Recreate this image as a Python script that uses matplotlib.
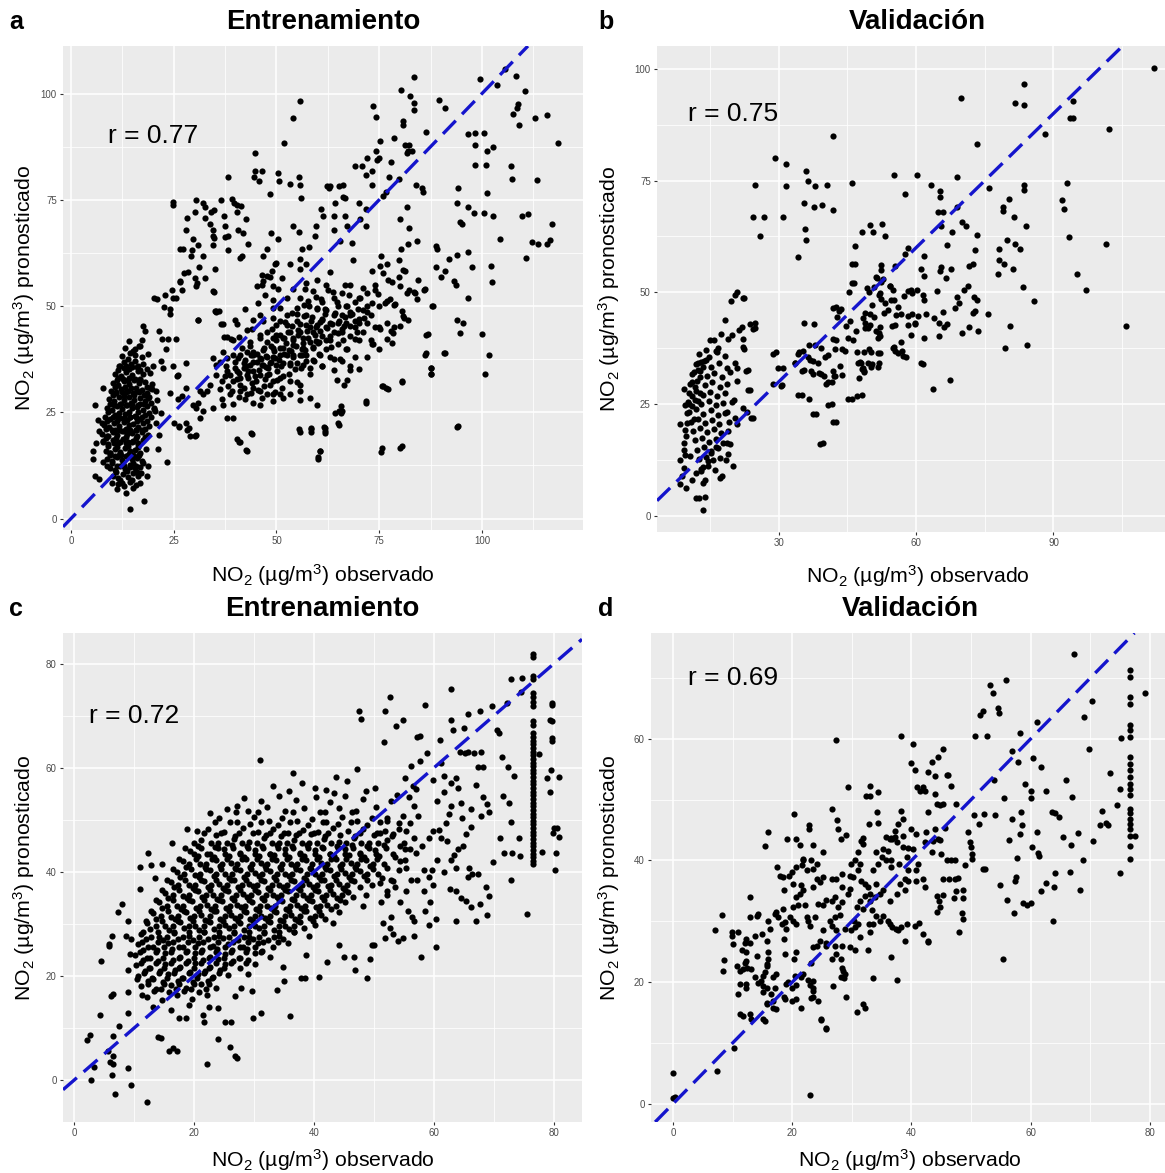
import numpy as np
import matplotlib
matplotlib.use("Agg")
import matplotlib.pyplot as plt

plt.rcParams['font.family'] = ['Liberation Sans', 'DejaVu Sans']
plt.rcParams['mathtext.fontset'] = 'custom'
plt.rcParams['mathtext.rm'] = 'Liberation Sans'
plt.rcParams['mathtext.it'] = 'Liberation Sans:italic'
plt.rcParams['mathtext.bf'] = 'Liberation Sans:bold'

# ---------------- data (observado, pronosticado) ----------------

# panel a, training: low cluster around 10-20 observed
a_low = [
    (5.8,26.6),(7.7,30.7),(6.5,23.1),(7.5,22.5),(6.9,20.6),(6.1,17.8),(5.4,15.9),(5.4,13.9),(5.8,10.0),(6.9,9.2),
    (7.9,18.2),(8.7,19.4),(9.5,15.5),(8.7,12.4),(7.9,13.2),(9.9,8.4),(11.1,6.9),(13.5,6.1),(14.4,2.2),(17.8,4.2),
    (12.3,8.4),(15.2,7.3),(16.8,8.4),(18.4,10.0),(18.8,12.4),(21.2,16.3),(23.4,13.3),(21.5,19.7),(20.8,22.5),(22.0,24.9),
    (24.1,29.6),(25.7,33.5),(26.1,33.8),(28.1,36.6),(24.7,35.8),(23.7,42.2),(25.5,42.2),(22.2,42.2),(21.4,44.2),(17.6,45.2),
    (18.0,44.2),(17.2,42.1),(16.8,40.5),(15.6,39.8),(22.0,37.0),(22.5,35.4),(20.0,35.8),(19.3,30.7),(18.8,28.3),(20.1,26.0),
    (20.5,25.2),(20.8,29.9),(23.2,39.8),(26.1,28.1),(27.1,28.9),(28.1,30.6),(25.1,22.5),(27.9,22.5),(26.3,21.7),(28.3,20.9),
    (30.3,19.7),(28.9,19.4),(30.4,26.0),(29.8,26.8),(31.4,23.7),(31.4,30.0),
    (13.2,40.1),(15.0,39.4),(16.6,40.6),(14.1,41.8),(12.3,38.2),(13.9,37.6),(15.5,38.5),(17.2,37.9),(18.8,38.7),
    (11.6,36.0),(13.0,35.4),(14.5,36.3),(16.0,35.7),(17.4,36.4),(18.5,35.2),
    (10.8,34.1),(12.1,33.5),(13.5,34.4),(14.8,33.8),(16.2,34.6),(17.6,33.9),(19.2,34.3),
    (10.3,32.0),(11.5,31.4),(12.8,32.3),(14.0,31.7),(15.3,32.5),(16.6,31.8),(17.9,32.2),(19.8,31.6),
    (9.7,30.1),(11.0,29.5),(12.2,30.4),(13.5,29.8),(14.7,30.6),(16.0,29.9),(17.2,30.3),(18.5,29.6),(19.7,30.5),
    (9.3,28.2),(10.5,27.6),(11.8,28.5),(13.0,27.9),(14.2,28.7),(15.4,28.0),(16.7,28.4),(17.9,27.7),(19.1,28.6),(21.0,27.9),
    (8.8,26.1),(10.0,25.5),(11.3,26.4),(12.5,25.8),(13.7,26.6),(14.9,25.9),(16.1,26.3),(17.4,25.6),(18.6,26.5),(20.2,25.8),
    (8.3,24.0),(9.6,23.4),(10.8,24.3),(12.0,23.7),(13.2,24.5),(14.4,23.8),(15.6,24.2),(16.9,23.5),(18.1,24.4),(19.4,23.9),
    (8.0,22.1),(9.2,21.5),(10.4,22.4),(11.6,21.8),(12.8,22.6),(14.0,21.9),(15.2,22.3),(16.4,21.6),(17.6,22.5),(18.9,21.8),
    (7.6,20.0),(8.9,19.4),(10.1,20.3),(11.3,19.7),(12.5,20.5),(13.7,19.8),(14.9,20.2),(16.1,19.5),(17.3,20.4),(18.7,19.7),
    (7.9,18.1),(9.1,17.5),(10.3,18.4),(11.5,17.8),(12.7,18.6),(13.9,17.9),(15.1,18.3),(16.3,17.6),(17.6,18.5),
    (8.4,16.0),(9.6,15.4),(10.8,16.3),(12.0,15.7),(13.2,16.5),(14.4,15.8),(15.6,16.2),(16.9,15.5),(18.2,16.4),
    (8.8,14.1),(10.0,13.5),(11.2,14.4),(12.4,13.8),(13.6,14.6),(14.8,13.9),(16.0,14.3),(17.3,13.6),
    (9.5,12.0),(10.7,11.4),(11.9,12.3),(13.1,11.7),(14.3,12.5),(15.5,11.8),(16.8,12.2),
    (10.2,10.1),(11.4,9.5),(12.6,10.4),(13.8,9.8),(15.0,10.6),(16.3,9.9),(11.5,8.2),(12.9,7.6),(14.3,8.5),(15.8,7.9),
    (14.3,39.0),(12.9,36.9),(15.6,37.0),(11.4,35.0),(14.1,35.2),(16.9,35.0),(11.5,33.0),(14.2,33.1),(16.9,32.9),(10.6,31.0),
    (13.1,30.9),(15.8,30.8),(18.4,31.0),(10.2,29.0),(12.8,28.9),(15.3,29.1),(17.7,29.0),(9.5,27.0),(12.0,27.0),(14.5,27.1),
    (16.9,26.9),(19.5,27.2),(9.1,25.0),(11.7,24.9),(14.0,25.0),(16.4,25.1),(18.9,24.9),(8.7,23.0),(11.2,22.9),(13.6,23.1),
    (16.0,22.9),(18.4,23.0),(8.4,21.0),(10.8,20.9),(13.3,21.1),(15.7,20.9),(18.1,21.0),(8.6,19.0),(11.0,18.9),(13.4,19.1),
    (15.8,18.9),(17.9,19.1),(9.0,17.0),(11.3,16.9),(13.8,17.1),(16.2,16.9),(9.4,15.0),(11.8,14.9),(14.2,15.1),(16.6,14.9),
    (10.0,13.0),(12.6,12.9),(15.0,13.1),(17.6,13.0),(11.0,11.0),(13.6,11.1),(16.0,10.9),(12.0,9.0),(14.9,9.1),(17.1,10.8),
    (11.9,35.8),(13.4,35.9),(14.9,35.7),(16.4,36.0),(11.2,32.7),(12.6,32.8),(13.9,32.6),(15.5,32.9),(16.9,32.7),(10.9,29.8),
    (12.4,29.7),(13.9,29.9),(15.2,29.6),(16.6,29.8),(10.5,26.8),(12.1,26.9),(13.4,26.7),(14.9,26.9),(16.3,26.8),(17.8,26.9),
    (10.2,23.8),(11.5,23.9),(12.9,23.7),(14.3,23.9),(15.8,23.8),(17.2,23.9),(9.9,20.8),(11.6,20.9),(13.0,20.7),(14.4,20.9),
    (15.9,20.8),(17.3,20.9),(10.4,17.8),(11.9,17.9),(13.3,17.7),(14.8,17.9),(16.3,17.8),(10.7,14.8),(12.2,14.9),(13.5,14.7),
    (15.0,14.9),(16.4,14.8),(11.3,12.3),(12.9,12.4),(14.4,12.2),(15.8,12.4),
]

# panel a, training: main band 30-80 observed
a_mid = [
    (28.5,58.0),(26.5,55.8),(30.6,55.5),(34.6,53.5),(35.3,48.8),(36.1,48.8),(31.0,46.8),(37.1,45.7),(42.3,49.2),(41.5,61.7),
    (46.8,61.7),(46.4,57.4),(47.6,57.0),(46.4,55.0),(49.2,54.8),(47.2,52.7),(45.6,50.7),(49.2,51.5),(50.4,53.9),(51.3,56.7),
    (50.0,60.2),(53.3,59.8),(55.7,61.0),(54.1,53.9),(57.0,53.9),(59.8,56.2),(57.7,51.1),(54.9,49.5),(57.3,48.0),(52.5,48.0),
    (50.9,49.5),(49.2,47.2),(46.8,46.4),(44.4,46.8),(42.8,44.4),(40.0,46.8),(37.9,42.8),(39.5,42.0),(37.1,39.3),(41.5,40.1),
    (43.6,41.6),(46.0,43.2),(47.6,44.0),(50.0,43.2),(53.3,44.0),(55.7,44.0),(58.8,44.0),(58.8,40.1),(56.5,40.1),(54.1,40.9),
    (51.7,40.1),(49.2,40.1),(46.8,39.7),(44.4,39.3),(42.3,37.4),(39.9,36.9),(37.9,34.6),(35.4,33.8),(35.4,36.2),(36.7,32.3),
    (33.8,31.5),(33.0,29.9),(32.2,29.2),(31.0,27.2),(32.2,25.2),(34.6,26.0),(37.1,26.8),(38.7,29.2),(41.1,29.9),(42.8,29.2),
    (44.4,30.8),(46.0,29.9),(47.6,29.2),(49.2,29.2),(50.9,29.2),(53.3,29.2),(55.7,29.9),(55.7,31.5),(53.3,32.3),(50.9,33.0),
    (49.2,32.3),(47.6,33.8),(46.0,33.8),(44.4,34.6),(42.8,33.8),(41.1,33.0),(39.5,32.3),(38.7,33.8),(40.3,34.6),(42.0,35.4),
    (43.6,36.2),(45.2,36.9),(46.8,36.2),(48.4,36.6),(50.0,36.2),(51.7,36.6),(53.3,36.2),(54.9,36.6),(56.5,36.2),(58.2,35.4),
    (58.8,37.4),(57.3,38.5),(55.7,38.5),(54.1,38.5),(52.5,38.5),(50.9,38.5),(49.2,38.1),(47.6,38.1),(46.0,37.7),(44.4,38.5),
    (42.8,39.3),(41.1,38.5),(39.5,38.5),(37.9,37.7),(36.3,36.9),(34.6,37.7),(47.6,41.6),(49.2,42.4),(51.7,42.4),(54.1,42.4),
    (56.5,42.4),(58.2,41.6),(59.8,45.6),(57.3,45.6),(54.9,46.4),(52.5,45.6),(50.0,45.6),(46.0,47.9),(44.0,44.7),(40.8,42.8),
    (49.2,49.5),(52.5,51.8),(55.7,51.8),(58.8,53.5),(59.8,49.2),(57.3,55.5),(55.7,58.7),(46.0,26.8),(49.2,27.6),(51.7,28.4),
    (55.7,28.0),(58.2,28.4),(59.8,26.8),(55.7,20.4),(58.5,20.4),(41.1,18.0),(42.8,16.0),(39.5,23.6),(37.9,23.6),(44.0,19.9),
    (61.0,43.0),(61.0,47.0),(61.0,51.0),(62.0,40.0),(62.0,45.0),(62.0,49.0),(62.0,55.0),(63.0,42.0),(63.0,46.0),(63.0,38.0),
    (64.0,44.0),(64.0,48.0),(64.0,52.0),(65.0,46.0),(65.0,41.0),(65.0,50.0),(61.0,36.0),(63.0,58.0),(64.0,35.0),(66.0,44.0),
    (66.0,48.0),(66.0,53.0),(67.0,40.0),(67.0,46.0),(67.0,50.0),(68.0,43.0),(68.0,48.0),(68.0,55.0),(69.0,45.0),(69.0,51.0),
    (69.0,38.0),(70.0,47.0),(70.0,42.0),(70.0,52.0),(66.0,37.0),(68.0,35.0),(71.0,44.0),(71.0,49.0),(72.0,46.0),(72.0,53.0),
    (73.0,42.0),(73.0,48.0),(74.0,45.0),(74.0,55.0),(75.0,40.0),(75.0,50.0),(72.0,38.0),(60.3,41.6),(59.6,45.0),(60.5,38.6),
    (75.2,59.4),(77.2,56.2),(77.6,51.6),(80.0,54.7),(80.8,58.6),(81.7,53.1),(83.7,53.1),(84.5,56.2),(86.1,53.9),(86.5,43.3),
    (87.9,49.9),(86.4,38.9),(87.7,35.5),(87.7,33.9),(90.8,39.0),(75.6,31.2),(77.2,30.5),(80.5,32.3),(71.9,27.7),(75.6,16.5),
    (80.5,17.0),(94.2,21.7),(70.1,35.2),(73.5,41.0),(75.2,44.5),(76.8,46.1),(78.4,43.7),(80.0,45.3),(80.8,47.6),(78.8,50.4),
    (76.4,50.8),(74.8,52.8),(73.2,50.8),(72.0,48.5),(70.0,46.1),(68.0,48.5),(66.4,45.4),(69.1,42.2),(67.1,39.9),(65.5,37.5),
    (68.0,36.0),(64.7,32.7),(67.1,32.7),(66.4,31.5),(65.1,25.2),(65.9,25.2),(65.2,22.1),(60.5,16.0),(60.1,14.4),(58.5,21.4),
    (61.7,21.4),(61.7,20.6),
    (36.2,30.5),(37.4,33.6),(36.8,28.2),(38.1,31.1),(37.7,35.9),(39.2,30.1),(40.3,32.9),(39.8,35.4),(41.0,28.6),(40.6,37.8),
    (39.5,27.0),(41.2,31.4),(42.1,30.6),(43.0,33.1),(42.6,35.8),(43.7,38.4),(44.1,31.9),(42.4,28.1),(43.5,40.6),(44.3,27.2),
    (45.0,32.4),(45.8,34.9),(46.3,37.6),(45.4,30.3),(46.9,40.1),(47.2,32.8),(45.9,42.5),(46.6,28.3),(47.5,35.6),(48.1,34.1),
    (48.7,36.9),(49.3,39.4),(48.4,31.5),(49.8,42.0),(50.2,34.8),(48.9,44.6),(50.5,37.4),(49.6,29.7),(50.8,46.5),(51.2,36.0),
    (51.8,38.8),(52.4,41.3),(51.5,33.6),(52.9,43.9),(53.2,36.7),(52.0,46.2),(53.5,39.5),(51.3,30.8),(53.8,48.4),(54.1,37.9),
    (54.7,40.6),(55.3,43.2),(54.4,35.3),(55.8,45.8),(56.1,38.5),(54.9,48.1),(56.4,41.2),(55.1,32.2),(56.6,50.3),(57.0,39.6),
    (57.6,42.4),(58.2,45.0),(57.3,37.0),(58.7,47.5),(59.0,40.3),(57.8,50.0),(59.3,43.1),(58.1,34.1),(59.5,52.2),(60.0,41.3),
    (60.6,44.1),(61.2,46.7),(60.3,38.7),(61.7,49.2),(62.0,42.0),(60.8,51.6),(62.3,44.8),(61.0,35.8),(62.5,53.8),(63.0,43.0),
    (63.6,45.8),(64.2,48.4),(63.3,40.4),(64.7,50.9),(65.0,43.7),(63.8,53.3),(65.3,46.5),(64.0,37.5),(66.0,44.7),(66.6,47.5),
    (67.2,50.1),(66.3,42.1),(67.7,52.6),(68.0,45.4),(66.8,55.0),(68.3,48.2),(69.2,46.4),(69.8,49.2),(70.4,51.8),(69.5,43.8),
    (71.0,54.3),(71.4,47.1),(72.0,50.0),(40.9,34.2),(42.0,36.6),(43.1,34.7),(44.2,36.9),(45.3,38.8),(46.4,36.1),(47.5,38.3),
    (48.6,40.5),(49.7,37.8),(50.8,40.1),(51.9,42.4),(53.0,39.6),(54.1,42.1),(55.2,44.4),(56.3,39.8),(57.4,44.2),(58.5,46.4),
    (59.6,41.8),(60.7,46.2),(61.8,48.2),(44.8,33.6),(47.9,35.4),(50.9,43.2),(53.9,45.3),(56.8,47.6),(59.9,49.6),(43.9,29.6),
    (47.0,31.1),(50.1,32.6),(53.0,34.1),(56.0,35.4),(59.1,37.0),
]

# panel a, training: scattered high and right points
a_high = [
    (83.5,103.8),(80.3,100.9),(82.5,99.4),(83.5,97.9),(83.5,96.1),(55.8,98.2),(54.1,94.2),(73.5,97.1),(74.2,94.5),(89.5,98.5),
    (91.1,96.5),(99.5,103.5),(103.6,102.1),(105.5,105.9),(108.3,104.2),(110.4,100.5),(108.9,97.6),(108.6,96.5),(107.5,95.2),(109.1,92.7),
    (113.0,94.2),(115.9,94.9),(118.5,88.3),(80.7,93.5),(80.9,92.7),(86.4,90.9),(96.7,90.5),(98.4,90.8),(100.4,90.7),(98.4,88.0),
    (102.6,87.4),(101.2,86.5),(101.1,83.3),(98.4,83.3),(98.1,71.8),(100.6,72.0),(96.7,73.2),(102.7,71.2),(101.3,76.6),(94.3,77.7),
    (93.9,74.3),(94.6,69.7),(95.2,69.3),(104.5,65.8),(107.0,83.0),(107.2,79.9),(113.4,79.7),(109.8,71.3),(111.2,71.6),(112.1,65.1),
    (113.6,64.6),(115.9,64.6),(116.5,65.6),(117.1,69.4),(110.7,61.3),(102.1,59.5),(102.5,55.7),(96.6,62.7),(97.7,59.1),(93.9,61.9),
    (92.0,61.1),(88.8,64.2),(89.0,63.4),(88.8,59.3),(91.0,58.2),(90.1,56.9),(93.3,56.0),(93.8,55.0),(96.6,52.0),(93.9,46.8),
    (95.3,46.0),(94.6,43.6),(100.0,43.5),(101.7,38.4),(100.7,34.1),(90.9,38.9),(87.6,35.4),(87.6,33.9),(86.1,38.6),(86.9,43.4),
    (88.0,50.0),(93.9,21.5),(80.6,32.1),(80.1,16.5),(75.4,15.7),(76.7,30.8),(76.0,31.2),(71.9,27.3),(60.6,15.8),(60.2,14.0),
    (61.6,21.5),(61.8,20.2),(55.5,21.1),(58.3,21.1),(65.0,22.4),(64.3,24.8),(65.7,24.8),(65.7,26.5),(42.5,16.2),(40.8,18.0),
    (40.5,18.6),(43.9,20.2),(30.2,19.5),(28.6,21.2),(26.3,21.5),
    (24.7,74.6),(24.7,73.9),(30.4,75.0),(32.0,74.2),(32.5,73.3),(28.2,70.8),(28.1,68.0),(30.2,72.1),(34.1,72.1),(34.9,72.5),
    (32.5,70.8),(38.2,80.4),(36.6,74.9),(39.2,75.2),(39.7,74.2),(40.3,73.7),(41.4,73.5),(37.2,71.3),(40.3,72.2),(42.7,70.6),
    (33.9,69.3),(34.6,67.8),(34.6,66.6),(34.9,66.0),(37.4,68.8),(37.5,66.2),(38.1,66.4),(40.7,68.0),(29.6,65.8),(30.8,64.4),
    (29.5,63.1),(27.2,63.5),(26.6,63.5),(29.1,61.8),(32.0,61.8),(34.6,64.4),(38.3,63.1),(41.2,61.3),(41.9,67.1),(43.0,64.6),
    (44.7,81.7),(44.8,86.1),(44.5,80.4),(46.5,81.9),(45.7,79.5),(48.5,76.4),(50.3,81.2),(50.5,79.5),(51.9,88.3),(53.2,78.8),
    (55.5,80.4),(55.8,78.6),(48.7,67.1),(47.6,63.5),(50.3,65.8),(49.7,60.0),(48.9,58.2),(48.5,56.9),(46.7,56.0),(45.3,54.7),
    (27.4,57.8),(26.5,55.6),(26.9,53.8),(30.2,56.5),(30.4,54.7),(24.5,53.8),(24.7,52.0),(25.6,52.0),(20.1,52.0),(21.0,51.6),
    (22.9,52.5),(22.6,49.8),(24.2,49.2),(24.2,48.1),(30.8,46.7),(32.5,56.5),(35.1,58.7),(34.9,53.4),(35.1,48.9),(35.4,48.5),
    (36.4,45.8),(40.3,45.8),(37.3,42.7),(38.9,42.3),(31.1,59.1),
    (56.0,75.5),(54.0,68.8),(55.6,67.5),(56.3,63.5),(57.8,64.0),(57.2,60.0),(59.3,66.6),(59.7,68.8),(60.9,72.8),(61.3,71.1),
    (62.2,78.3),(62.7,77.7),(63.1,78.3),(65.2,78.3),(66.2,78.6),(64.2,74.3),(66.2,75.7),(66.8,75.5),(66.8,71.1),(64.0,71.1),
    (63.9,68.0),(65.5,65.3),(67.2,68.8),(68.4,64.9),(68.6,60.9),(70.0,74.2),(70.4,70.6),(71.8,72.8),(71.8,68.8),(69.1,83.0),
    (70.9,83.0),(71.8,80.8),(72.1,84.8),(73.2,81.7),(73.2,78.6),(74.3,86.5),(74.4,84.3),(75.3,88.8),(75.0,84.8),(76.7,76.8),
    (76.0,76.0),(77.3,80.4),(77.9,83.9),(78.7,89.6),(79.8,79.9),(81.4,87.9),(81.7,86.1),(81.9,86.5),(82.3,87.9),(83.0,86.5),
    (83.9,78.6),(85.3,77.7),(85.7,76.8),(81.7,73.3),(80.0,70.6),(82.3,68.4),(81.9,64.6),(84.2,65.3),(80.2,63.5),(79.8,60.9),
    (81.2,58.2),(79.8,56.9),(78.2,55.6),(76.8,60.0),(75.9,57.8),(75.5,61.8),(74.1,53.8),(73.2,58.2),(76.8,51.2),(78.5,50.3),
    (82.3,53.8),(83.4,53.4),(84.2,51.6),(85.8,53.8),(80.5,48.9),(81.1,47.2),(81.9,46.7),(78.7,45.0),(77.8,44.1),(76.8,42.3),
    (78.2,41.4),(75.0,45.0),(73.2,41.0),
]

# panel b, validation: low cluster
b_low = [
    (20.8,50.1),(20.5,49.4),(19.6,48.1),(22.1,48.7),(18.2,43.9),(23.7,43.0),(24.3,41.9),(21.3,41.6),(19.7,40.4),(18.9,39.5),
    (14.9,39.3),(15.8,39.3),(17.3,40.6),(22.1,39.5),(22.2,37.7),(16.8,37.5),(16.4,36.7),(14.2,37.1),(18.2,35.8),(20.4,34.1),
    (20.8,33.0),(19.3,32.1),(20.8,30.1),(22.8,32.5),(23.3,28.1),(22.2,24.1),(23.0,23.3),(23.9,22.0),(20.8,20.6),(20.4,21.8),
    (19.7,25.5),(20.2,25.9),(18.7,23.3),(19.2,21.1),(18.9,18.9),(18.6,16.4),(19.3,16.0),(18.8,13.8),(18.5,12.6),(19.9,11.1),
    (17.6,9.0),(17.2,8.5),(16.3,15.3),(15.3,14.1),(14.6,12.2),(13.5,11.0),(13.9,8.0),(13.5,7.3),(13.9,4.3),(12.6,4.1),
    (11.9,4.1),(13.5,1.3),(13.1,10.0),(12.0,9.6),(11.1,8.1),(9.8,6.3),(8.4,7.1),(8.9,8.9),(9.3,10.7),(8.4,12.6),
    (9.5,13.7),(10.6,13.4),(9.3,14.8),(9.3,16.3),(9.8,17.8),(9.5,19.3),(8.4,20.5),(10.0,20.8),(11.4,21.6),(10.0,23.0),
    (9.5,24.8),(10.4,25.1),(11.1,24.6),(9.3,28.3),(11.1,26.8),(12.3,25.6),(12.9,27.4),(11.8,28.9),(11.1,30.0),(11.5,32.1),
    (12.3,32.6),(12.9,31.1),(13.5,33.4),(14.1,34.9),(13.1,34.5),(12.4,34.1),
    (12.5,36.2),(14.8,35.6),(16.3,36.8),(11.9,33.9),(13.6,34.6),(15.2,33.3),(17.0,34.1),(18.6,33.0),
    (11.0,31.8),(12.7,32.4),(14.3,31.3),(15.9,32.0),(17.5,31.0),(10.6,29.6),(12.2,30.2),(13.8,29.2),(15.4,29.9),(17.1,28.9),
    (18.7,29.5),(10.3,27.5),(11.9,28.0),(13.4,27.1),(15.0,27.8),(16.6,26.8),(18.2,27.4),(10.1,25.4),(11.6,25.9),(13.1,25.0),
    (14.7,25.7),(16.2,24.8),(17.8,25.3),(10.4,23.2),(12.0,23.8),(13.5,22.9),(15.1,23.6),(16.7,22.6),(18.3,23.1),(10.8,21.1),
    (12.3,21.7),(13.9,20.8),(15.4,21.5),(17.0,20.6),(11.2,19.0),(12.8,19.6),(14.3,18.7),(15.9,19.4),(17.4,18.5),(11.7,16.9),
    (13.2,17.5),(14.8,16.6),(16.3,17.2),(17.9,16.4),(12.1,14.8),(13.7,15.4),(15.2,14.5),(16.8,15.1),(12.6,12.7),(14.1,13.2),
    (15.7,12.4),(17.2,13.0),(13.0,10.6),(14.6,11.1),(16.1,10.3),
]

# panel b, validation: everything above 22 observed
b_rest = [
    (112.0,100.2),(83.5,96.6),(83.5,91.9),(81.7,92.3),(69.8,93.5),(94.2,92.7),(93.7,89.1),(94.3,89.1),(102.1,86.5),(88.2,85.5),
    (73.3,83.2),(41.9,84.9),(29.1,80.0),(31.6,78.7),(36.0,77.2),(36.4,74.8),(38.0,73.7),(40.6,74.1),(31.5,73.7),(24.7,73.9),
    (24.3,66.8),(26.8,66.9),(30.9,66.9),(25.9,62.7),(35.6,69.9),(37.7,69.1),(39.5,69.6),(41.9,68.5),(35.8,64.2),(36.0,61.8),
    (34.1,57.9),(46.1,74.5),(55.2,76.3),(60.2,76.2),(57.5,72.0),(63.2,74.0),(65.2,72.6),(65.2,71.4),(69.0,75.9),(76.0,73.3),
    (83.5,73.9),(83.5,72.8),(84.1,64.9),(93.0,74.4),(91.9,70.6),(92.4,68.6),(93.5,62.4),(81.4,66.9),(79.0,69.1),(80.3,70.8),
    (79.9,61.6),(81.5,60.9),(82.7,59.7),(78.0,59.7),(78.0,57.2),(77.8,54.2),(79.1,56.3),(81.1,55.2),(79.0,68.2),(101.4,60.8),
    (95.2,54.0),(97.2,50.6),(85.7,48.1),(83.4,51.1),(105.9,42.4),(80.5,42.4),(79.4,37.6),(84.3,38.2),(75.8,45.2),(73.6,41.4),
    (71.5,42.2),(70.0,41.0),(72.6,49.0),(73.3,48.4),(72.9,45.8),(72.5,45.4),(71.3,51.5),(70.4,50.6),(69.4,47.7),(69.0,49.0),
    (68.6,46.6),(72.4,56.3),(71.5,56.0),(71.0,64.9),(70.0,65.8),(68.9,69.1),(73.3,62.8),(72.9,59.5),(67.8,63.5),(66.8,60.6),
    (65.5,64.9),(64.7,67.9),(65.9,67.9),(67.6,55.3),(65.5,55.6),(65.2,54.7),(66.6,53.2),(64.5,50.3),(61.5,49.3),(60.2,50.6),
    (61.8,48.3),(59.0,49.8),(59.0,45.2),(59.7,43.1),(58.9,40.5),(62.2,45.2),(64.0,44.3),(65.1,43.1),(65.9,45.6),(66.1,42.2),
    (66.7,42.9),(65.0,40.3),(61.7,39.7),(61.5,34.0),(63.7,28.3),(67.4,30.3),(61.8,58.2),(61.0,55.3),(61.7,53.6),(57.5,58.5),
    (58.2,59.9),(55.4,56.0),(57.4,49.1),(56.1,46.7),(55.1,48.4),(56.8,45.2),(55.6,44.9),(55.4,42.6),(55.2,37.8),(55.4,36.9),
    (56.9,36.8),(57.7,35.5),(53.0,45.4),(53.8,46.0),(54.3,51.5),(54.9,50.6),(52.4,54.9),(52.8,53.0),(52.4,56.1),(53.3,62.6),
    (52.6,65.3),(50.0,65.0),(50.5,63.4),(48.2,63.5),(46.6,60.4),(46.6,56.4),(46.4,52.0),(45.3,50.0),(49.2,50.9),(49.7,50.1),
    (50.4,47.1),(51.4,53.2),(51.8,49.5),(52.3,48.5),(48.9,45.3),(50.0,45.2),(48.9,43.1),(50.0,42.6),(50.8,44.4),(51.2,41.4),
    (52.2,42.2),(52.2,40.3),(52.1,36.5),(51.8,34.2),(50.4,34.0),(49.6,37.4),(48.0,34.2),(48.3,33.0),(48.7,32.5),(47.3,34.2),
    (46.9,41.3),(46.2,39.3),(45.1,39.9),(45.5,43.7),(47.0,36.7),(46.1,26.2),(48.2,27.1),(47.5,30.9),(44.5,36.9),(43.8,31.5),
    (44.6,42.4),(43.6,46.3),(42.4,46.8),(42.7,44.4),(42.6,39.4),(42.2,37.4),(40.8,35.9),(41.9,32.3),(42.3,31.3),(41.6,30.0),
    (40.3,29.4),(39.9,31.3),(39.3,31.7),(38.7,32.0),(37.5,31.7),(37.0,32.5),(38.5,34.2),(37.5,34.7),(36.4,35.5),(35.2,36.8),
    (34.1,36.3),(35.1,32.5),(33.5,34.2),(35.4,43.1),(37.6,42.9),(37.9,38.2),(36.6,26.2),(35.0,27.1),(38.1,22.9),(41.6,25.0),
    (42.6,21.0),(39.6,16.3),(30.9,33.1),(30.6,29.2),(29.4,36.6),(24.8,43.1),(24.7,42.0),(24.3,22.0),(23.7,28.1),(23.3,32.7),
    (22.4,37.3),(21.9,42.2),(22.4,48.7),(28.8,36.3),(29.8,33.0),(30.4,29.0),(28.8,29.6),(34.2,27.0),(33.5,34.1),(34.4,36.7),
    (35.6,32.6),(36.9,34.8),(36.7,38.2),(37.5,22.8),(39.0,16.1),(40.8,24.7),(41.9,21.0),(42.1,31.4),(40.8,29.9),(39.3,37.6),
    (40.1,35.5),(41.8,39.5),(41.8,46.6),(43.1,45.9),(43.4,33.6),(43.8,37.3),(45.2,26.1),(47.1,26.8),(46.0,52.0),(46.0,56.3),
    (47.7,34.4),(48.1,32.9),(48.6,32.2),(49.5,34.1),(50.2,33.4),(51.7,33.4),(51.7,36.4),(50.2,36.7),(48.6,36.7),(48.9,42.0),
    (49.5,42.0),(48.4,44.2),(51.7,39.8),(51.8,40.9),(52.4,52.4),(51.3,53.5),(50.9,51.3),(52.2,49.8),(53.1,47.6),(54.4,51.5),
    (54.6,48.4),(54.7,42.4),(54.9,37.6),(56.0,36.4),(57.1,35.7),(56.8,39.0),(58.2,42.8),(58.2,44.8),(58.2,50.4),(58.9,50.6),
    (59.8,42.9),(60.4,44.6),(61.0,34.1),
]

# panel c, training: dense band
c_core = [
    (33.2,56.4),(35.8,55.6),(40.1,56.2),(43.3,55.1),(38.0,57.0),
    (28.3,54.2),(31.1,53.6),(34.2,54.5),(37.0,53.8),(40.3,54.3),(42.6,53.5),(45.1,54.6),(48.2,53.9),
    (25.4,52.1),(29.0,51.6),(32.2,52.4),(35.1,51.7),(38.3,52.3),(41.0,51.5),(44.2,52.2),(47.0,51.6),(50.3,52.4),
    (24.1,50.3),(27.2,49.6),(30.0,50.5),(32.4,49.8),(34.6,50.4),(37.1,49.7),(39.6,50.2),(42.0,49.5),(44.7,50.6),(47.1,49.8),(49.6,50.3),(52.2,49.7),
    (22.3,48.2),(25.0,47.6),(28.1,48.4),(30.6,47.7),(33.1,48.3),(35.6,47.5),(38.2,48.1),(40.6,47.6),(43.1,48.5),(45.6,47.8),(48.2,48.2),(51.0,47.5),(54.1,48.3),
    (21.2,46.1),(24.0,45.5),(26.6,46.3),(29.1,45.7),(31.6,46.4),(34.1,45.6),(36.6,46.2),(39.1,45.5),(41.6,46.3),(44.1,45.7),(46.6,46.4),(49.2,45.6),(52.1,46.2),(55.0,45.5),
    (19.3,44.0),(22.1,43.4),(25.0,44.3),(27.6,43.6),(30.1,44.2),(32.6,43.5),(35.1,44.4),(37.6,43.7),(40.1,44.1),(42.6,43.4),(45.1,44.3),(47.6,43.6),(50.2,44.2),(53.1,43.5),(56.0,44.3),
    (18.1,42.1),(21.0,41.5),(23.6,42.3),(26.1,41.6),(28.6,42.4),(31.1,41.7),(33.6,42.2),(36.1,41.5),(38.6,42.3),(41.1,41.6),(43.6,42.4),(46.1,41.7),(48.6,42.2),(51.6,41.5),(55.1,42.3),
    (17.2,40.0),(20.1,39.4),(22.6,40.3),(25.1,39.6),(27.6,40.4),(30.1,39.7),(32.6,40.2),(35.1,39.5),(37.6,40.3),(40.1,39.6),(42.6,40.4),(45.1,39.7),(47.6,40.2),(50.6,39.5),(54.1,40.3),
    (16.1,38.1),(19.1,37.5),(21.6,38.3),(24.1,37.6),(26.6,38.4),(29.1,37.7),(31.6,38.2),(34.1,37.5),(36.6,38.3),(39.1,37.6),(41.6,38.4),(44.1,37.7),(46.6,38.2),(49.6,37.5),(53.1,38.3),
    (15.1,36.0),(18.1,35.4),(20.6,36.3),(23.1,35.6),(25.6,36.4),(28.1,35.7),(30.6,36.2),(33.1,35.5),(35.6,36.3),(38.1,35.6),(40.6,36.4),(43.1,35.7),(45.6,36.2),(48.6,35.5),(52.1,36.3),
    (14.1,34.1),(17.1,33.5),(19.6,34.3),(22.1,33.6),(24.6,34.4),(27.1,33.7),(29.6,34.2),(32.1,33.5),(34.6,34.3),(37.1,33.6),(39.6,34.4),(42.1,33.7),(45.1,34.2),(48.1,33.5),
    (13.1,32.0),(16.1,31.4),(18.6,32.3),(21.1,31.6),(23.6,32.4),(26.1,31.7),(28.6,32.2),(31.1,31.5),(33.6,32.3),(36.1,31.6),(38.6,32.4),(41.1,31.7),(44.1,32.2),
    (12.1,30.1),(15.1,29.5),(17.6,30.3),(20.1,29.6),(22.6,30.4),(25.1,29.7),(27.6,30.2),(30.1,29.5),(32.6,30.3),(35.1,29.6),(37.6,30.4),(40.1,29.7),(43.1,30.2),
    (11.1,28.0),(14.1,27.4),(16.6,28.3),(19.1,27.6),(21.6,28.4),(24.1,27.7),(26.6,28.2),(29.1,27.5),(31.6,28.3),(34.1,27.6),(36.6,28.4),(39.1,27.7),
    (10.6,26.1),(13.1,25.5),(15.6,26.3),(18.1,25.6),(20.6,26.4),(23.1,25.7),(25.6,26.2),(28.1,25.5),(30.6,26.3),(33.1,25.6),(35.6,26.4),
    (10.1,24.0),(12.6,23.4),(15.1,24.3),(17.6,23.6),(20.1,24.4),(22.6,23.7),(25.1,24.2),(27.6,23.5),(30.1,24.3),(32.6,23.6),
    (10.2,22.1),(12.7,21.5),(15.2,22.3),(17.7,21.6),(20.2,22.4),(22.7,21.7),(25.2,22.2),(27.7,21.5),(30.2,22.3),
    (10.6,20.0),(13.1,19.4),(15.6,20.3),(18.1,19.6),(20.6,20.4),(23.1,19.7),(25.6,20.2),
    (11.1,18.1),(13.6,17.5),(16.1,18.3),(18.6,17.6),(21.1,18.4),(23.6,17.7),
    (12.1,16.0),(14.6,15.4),(17.1,16.3),(19.6,15.6),(22.1,16.4),(13.1,14.1),(16.1,13.5),(19.1,14.3),
    (29.3,49.1),(34.0,48.9),(39.0,49.0),(44.0,49.2),(48.9,48.9),
    (23.7,47.0),(26.8,46.9),(31.9,47.1),(34.4,46.8),(36.9,47.0),(39.4,47.2),(41.9,46.9),(44.4,47.1),(46.9,46.8),(50.0,47.0),(53.0,46.9),
    (20.6,45.0),(23.4,44.8),(26.3,45.1),(28.8,44.9),(31.3,45.0),(33.8,45.2),(36.3,44.9),(38.8,45.1),(41.3,44.8),(43.8,45.0),(46.3,45.2),(48.8,44.9),(51.6,45.1),(54.4,44.9),
    (20.6,43.0),(23.3,42.9),(25.8,43.1),(28.3,42.8),(30.8,43.0),(33.3,43.2),(35.8,42.9),(38.3,43.1),(40.8,42.8),(43.3,43.0),(45.8,43.2),(48.3,42.9),(50.9,43.1),(53.5,42.8),
    (18.7,41.0),(21.8,40.9),(24.3,41.1),(26.8,40.8),(29.3,41.0),(31.8,41.2),(34.3,40.9),(36.8,41.1),(39.3,40.8),(41.8,41.0),(44.3,41.2),(46.8,40.9),(49.3,41.1),(52.2,40.8),
    (17.7,39.0),(20.8,38.9),(23.3,39.1),(25.8,38.8),(28.3,39.0),(30.8,39.2),(33.3,38.9),(35.8,39.1),(38.3,38.8),(40.8,39.0),(43.3,39.2),(45.8,38.9),(48.3,39.1),(51.4,38.8),
    (16.7,37.0),(19.8,36.9),(22.3,37.1),(24.8,36.8),(27.3,37.0),(29.8,37.2),(32.3,36.9),(34.8,37.1),(37.3,36.8),(39.8,37.0),(42.3,37.2),(44.8,36.9),(47.6,37.1),
    (15.6,35.0),(18.8,34.9),(21.3,35.1),(23.8,34.8),(26.3,35.0),(28.8,35.2),(31.3,34.9),(33.8,35.1),(36.3,34.8),(38.8,35.0),(41.3,35.2),(43.8,34.9),(46.5,35.1),
    (14.6,33.0),(17.8,32.9),(20.3,33.1),(22.8,32.8),(25.3,33.0),(27.8,33.2),(30.3,32.9),(32.8,33.1),(35.3,32.8),(37.8,33.0),(40.3,33.2),(42.8,32.9),
    (13.6,31.0),(16.8,30.9),(19.3,31.1),(21.8,30.8),(24.3,31.0),(26.8,31.2),(29.3,30.9),(31.8,31.1),(34.3,30.8),(36.8,31.0),(39.3,31.2),(41.8,30.9),
    (12.6,29.0),(15.8,28.9),(18.3,29.1),(20.8,28.8),(23.3,29.0),(25.8,29.2),(28.3,28.9),(30.8,29.1),(33.3,28.8),(35.8,29.0),(38.3,29.2),
    (12.0,27.0),(14.8,26.9),(17.3,27.1),(19.8,26.8),(22.3,27.0),(24.8,27.2),(27.3,26.9),(29.8,27.1),(32.3,26.8),(34.8,27.0),
    (11.4,25.0),(13.8,24.9),(16.3,25.1),(18.8,24.8),(21.3,25.0),(23.8,25.2),(26.3,24.9),(28.8,25.1),(31.3,24.8),
    (11.4,23.0),(13.9,22.9),(16.4,23.1),(18.9,22.8),(21.4,23.0),(23.9,23.2),(26.4,22.9),(28.9,23.1),
    (11.8,21.0),(14.3,20.9),(16.8,21.1),(19.3,20.8),(21.8,21.0),(24.3,21.2),
    (12.3,19.0),(14.8,18.9),(17.3,19.1),(19.8,18.8),(22.3,19.0),(13.3,17.0),(15.8,16.9),(18.3,17.1),(20.8,16.8),
]

# panel c, training: extra rows of the dense band (predicted value, observed values on that row)
c_rows = [
    (51.5, [26.9, 30.6, 36.4, 41.8, 46.3]),
    (49.5, [23.5, 26.0, 31.2, 36.0, 41.5, 46.1, 51.0]),
    (47.5, [21.7, 24.4, 27.4, 29.8, 32.6, 35.0, 37.5, 40.0, 42.4, 47.6, 50.5]),
    (45.5, [19.9, 22.8, 25.4, 27.9, 30.4, 32.9, 35.4, 37.9, 40.4, 42.9, 45.4, 47.9, 50.6]),
    (44.5, [18.4, 21.2, 23.9, 26.5, 29.0, 31.5, 34.0, 36.5, 39.0, 41.5, 44.0, 46.5, 49.1, 52.0]),
    (43.5, [19.9, 22.6, 25.2, 27.7, 30.2, 32.7, 35.2, 37.7, 40.2, 42.7, 45.2, 47.7, 50.3]),
    (42.5, [17.5, 20.3, 22.9, 25.4, 27.9, 30.4, 32.9, 35.4, 37.9, 40.4, 42.9, 45.4, 47.9, 50.5]),
    (41.5, [19.2, 21.9, 24.6, 27.2, 29.7, 32.2, 34.7, 37.2, 39.7, 42.2, 44.7, 47.2, 49.9]),
    (40.5, [16.5, 19.4, 22.0, 24.5, 27.0, 29.5, 32.0, 34.5, 37.0, 39.5, 42.0, 44.5, 47.0, 49.8]),
    (39.5, [18.3, 21.0, 23.7, 26.3, 28.8, 31.3, 33.8, 36.3, 38.8, 41.3, 43.8, 46.3, 48.9]),
    (38.5, [15.5, 18.4, 21.1, 23.6, 26.1, 28.6, 31.1, 33.6, 36.1, 38.6, 41.1, 43.6, 46.1, 48.9]),
    (37.5, [17.3, 20.1, 22.8, 25.4, 27.9, 30.4, 32.9, 35.4, 37.9, 40.4, 42.9, 45.5]),
    (36.5, [14.6, 17.5, 20.2, 22.7, 25.2, 27.7, 30.2, 32.7, 35.2, 37.7, 40.2, 42.7, 45.2]),
    (35.5, [16.4, 19.2, 21.9, 24.5, 27.0, 29.5, 32.0, 34.5, 37.0, 39.5, 42.0, 44.6]),
    (34.5, [13.6, 16.5, 19.2, 21.7, 24.2, 26.7, 29.2, 31.7, 34.2, 36.7, 39.2, 41.7, 44.3]),
    (33.5, [15.4, 18.2, 20.9, 23.5, 26.0, 28.5, 31.0, 33.5, 36.0, 38.5, 41.0, 43.6]),
    (32.5, [12.8, 15.6, 18.3, 20.8, 23.3, 25.8, 28.3, 30.8, 33.3, 35.8, 38.3, 40.8]),
    (31.5, [14.5, 17.3, 20.0, 22.6, 25.1, 27.6, 30.1, 32.6, 35.1, 37.6, 40.1]),
    (30.5, [12.0, 14.6, 17.3, 19.8, 22.3, 24.8, 27.3, 29.8, 32.3, 34.8, 37.3, 39.8]),
    (29.5, [13.6, 16.4, 19.1, 21.7, 24.2, 26.7, 29.2, 31.7, 34.2, 36.7]),
    (28.5, [11.4, 14.0, 16.7, 19.2, 21.7, 24.2, 26.7, 29.2, 31.7, 34.2, 36.7]),
    (27.5, [12.8, 15.5, 18.2, 20.8, 23.3, 25.8, 28.3, 30.8, 33.3]),
    (26.5, [11.2, 13.9, 16.5, 19.0, 21.5, 24.0, 26.5, 29.0, 31.5, 34.0]),
    (25.5, [12.3, 15.0, 17.5, 20.1, 22.6, 25.1, 27.6, 30.1]),
    (24.5, [11.0, 13.6, 16.2, 18.7, 21.2, 23.7, 26.2, 28.7, 31.2]),
    (23.5, [12.1, 14.8, 17.4, 20.0, 22.5, 25.0, 27.5]),
    (22.5, [11.1, 13.6, 16.2, 18.7, 21.2, 23.7, 26.2, 28.7]),
    (21.5, [12.4, 15.0, 17.5, 20.0, 22.5, 25.0]),
    (20.5, [11.6, 14.1, 16.7, 19.2, 21.7, 24.2]),
    (19.5, [13.0, 15.5, 18.0, 20.5, 23.0]),
    (18.5, [12.3, 14.9, 17.4, 19.9, 22.4]),
    (17.5, [14.4, 16.9, 19.4, 21.9]),
]

# panel c, training: scattered points
c_spread = [
    (72.8,77.0),(74.5,74.5),(62.9,75.1),(79.7,72.0),(69.6,71.9),(72.2,72.5),(62.8,69.1),(63.2,67.2),(65.0,67.6),(67.6,70.9),
    (65.7,70.3),(79.7,69.0),(70.6,67.3),(70.8,66.7),(79.7,65.2),(61.0,65.4),(58.8,62.9),(57.6,61.3),(56.2,60.3),(58.5,72.1),
    (53.7,68.1),(54.9,69.1),(52.7,73.6),(51.9,71.0),(51.6,64.9),(47.5,71.0),(47.8,69.4),(57.1,66.0),(57.6,66.1),(61.2,61.0),
    (61.7,58.4),(64.3,63.1),(65.2,62.9),(65.7,63.1),(66.7,62.9),(67.8,63.1),(67.3,60.2),(68.2,60.2),(67.0,56.6),(68.1,54.4),
    (68.9,53.0),(69.2,51.5),(67.8,50.8),(71.3,62.0),(72.3,60.2),(73.3,58.4),(71.6,54.6),(72.6,53.3),(72.8,49.5),(71.1,46.5),
    (71.7,43.6),(73.0,43.6),(74.2,46.5),(74.3,43.1),(72.8,38.5),(69.8,41.8),(69.2,35.3),(68.6,37.1),(68.8,31.6),(67.0,30.6),
    (67.6,33.8),(67.3,39.5),(66.4,39.6),(65.6,39.0),(65.9,40.8),(64.8,45.0),(64.0,44.3),(65.4,47.2),(66.2,48.6),(64.7,50.4),
    (66.1,52.1),(64.5,53.3),(62.9,52.6),(61.7,55.3),(60.5,53.7),(59.9,57.7),(62.9,57.1),(63.7,58.0),(64.0,56.2),(62.5,51.1),
    (62.0,49.3),(60.8,48.0),(61.2,46.5),(62.1,45.9),(63.4,43.2),(62.9,42.3),(63.7,40.7),(61.7,40.0),(60.5,42.3),(59.7,40.3),
    (62.6,36.7),(63.7,36.3),(64.5,34.9),(65.3,34.3),(66.1,33.3),(63.7,30.6),(60.4,30.9),(59.2,29.8),(60.3,25.6),(58.5,32.4),
    (59.3,34.2),(58.4,36.3),(59.9,37.4),(59.2,38.9),(58.3,40.3),(57.1,38.5),(57.0,43.6),(58.0,45.0),(59.2,46.5),(59.8,47.9),
    (56.6,46.5),(56.0,49.3),(57.3,50.8),(56.6,52.6),(55.8,54.4),(57.0,55.9),(55.2,58.0),(53.8,54.8),(52.8,53.7),(52.2,50.4),
    (51.9,47.9),(53.1,47.2),(54.1,49.3),(54.8,50.8),(55.4,47.9),(55.1,44.3),(54.4,42.1),(55.4,40.7),(56.2,38.5),(55.4,36.3),
    (54.4,34.2),(55.7,32.4),(56.3,31.3),(56.6,30.6),(56.6,27.7),(54.9,27.3),(54.0,26.6),(53.2,28.0),(51.9,27.3),(52.6,29.1),
    (51.5,30.2),(52.9,31.3),(51.1,34.2),(52.2,35.6),(53.5,37.1),(52.9,38.5),(51.0,37.8),(49.7,25.9),(50.0,25.9),(49.4,23.3),
    (48.9,19.5),(46.6,23.7),(45.0,23.7),(42.2,22.6),(40.8,19.7),(37.8,19.5),(38.4,19.5),(35.9,12.3),(33.8,17.2),(35.0,19.0),
    (31.2,12.9),(29.8,11.9),(29.6,17.0),(29.0,20.4),(27.8,17.6),(26.8,16.1),(27.1,4.2),(26.8,4.6),(26.0,6.4),(25.2,11.1),
    (26.2,11.1),(23.9,7.8),(22.2,3.0),(21.5,12.4),(21.6,11.2),(22.4,14.1),(24.0,13.8),(18.6,11.8),(17.4,11.9),(16.4,6.1),
    (17.1,5.6),(15.8,5.6),(14.4,8.0),(13.9,8.2),(12.1,-4.3),(9.5,-0.9),(8.9,2.2),(6.7,-2.7),(6.4,3.1),(6.5,4.6),
    (5.9,3.5),(5.6,5.6),(6.2,0.9),(3.3,2.4),(2.8,-0.1),(2.1,7.6),(2.6,8.7),(6.5,8.5),(7.5,10.3),(4.2,12.4),
    (4.5,22.8),(6.1,16.1),(6.4,16.6),(5.8,26.2),(6.2,27.7),(5.8,25.8),(7.2,32.2),(8.0,33.8),(8.6,27.7),(8.9,30.6),
    (9.4,27.0),(9.2,24.1),(8.9,21.2),(8.9,16.8),(8.9,12.9),(11.0,36.7),(12.2,43.6),(12.8,41.3),(11.0,41.0),(18.8,48.2),
    (10.5,19.4),(11.3,16.3),(79.7,72.4),(79.4,69.2),(79.7,65.7),(77.5,62.7),(78.9,58.0),(79.6,59.6),(80.9,58.3),(79.4,55.3),
    (80.0,48.4),(80.5,48.4),(79.9,47.4),(80.9,46.6),(80.3,43.6),(78.0,43.8),(80.2,40.4),(75.5,31.8),(74.7,77.2),
    (45.5,57.5),(47.2,59.8),(43.7,58.3),(36.4,59.0),(30.9,61.5),(42.0,55.8),(50.2,56.1),(48.6,55.5),(56.5,56.5),(27.1,52.6),
    (22.6,51.3),(20.4,47.9),(16.3,45.6),(14.7,41.5),(13.5,38.8),(57.8,23.6),(46.8,21.2),(44.2,26.0),(38.6,24.0),(34.8,21.6),
]

# panel c, training: observed values stuck at 76.6
c_col = [81.8, 81.2, 77.6, 77.0, 74.4, 73.6, 72.6, 71.8, 68.9, 68.2, 66.6, 65.9, 65.2, 64.5, 63.8, 63.1, 62.4,
         61.7, 61.0, 60.3, 59.6, 58.9, 58.2, 57.5, 56.8, 56.1, 55.4, 54.7, 54.0, 53.3, 52.6, 51.9, 51.2, 50.5,
         49.8, 49.1, 48.4, 47.7, 47.0, 46.3, 45.6, 44.9, 44.2, 43.5, 42.8, 42.1, 41.5]

# panel d, validation
d_pts = [
    (67.3,74.0),(79.2,67.6),(53.1,68.8),(53.7,67.5),(55.8,69.7),(51.5,64.0),(52.0,64.5),(54.5,65.0),(54.6,64.3),(70.2,66.2),
    (68.9,63.6),(61.0,62.8),(50.6,60.4),(52.6,60.4),(58.2,61.0),(56.8,58.0),(69.8,58.4),(75.1,60.2),(77.5,44.0),(74.9,51.8),
    (74.4,49.2),(73.3,54.3),(71.9,48.2),(71.7,45.9),(72.6,46.2),(73.0,45.8),(70.4,43.2),(75.0,37.9),(68.3,35.1),(68.7,40.1),
    (67.9,44.5),(66.7,42.5),(67.0,50.4),(66.0,53.3),(65.5,43.8),(66.6,38.1),(64.1,37.9),(63.9,35.7),(62.5,36.3),(61.8,34.9),
    (63.7,30.0),(64.1,47.8),(64.7,47.1),(63.5,48.0),(62.5,51.5),(61.8,55.3),(60.4,56.8),(60.1,51.4),(60.1,50.2),(61.0,44.7),
    (60.3,42.2),(61.3,41.2),(61.4,40.7),(60.0,33.0),(59.3,32.7),(58.7,33.0),(57.2,31.3),(56.1,33.5),(57.6,37.3),(57.3,36.7),
    (57.7,40.4),(58.3,48.0),(58.5,45.8),(58.2,44.4),(56.8,46.9),(57.8,56.2),(59.0,52.5),(56.4,43.4),(55.5,50.2),(53.9,53.2),
    (54.0,47.4),(52.1,47.7),(50.5,47.4),(49.8,43.0),(49.9,42.2),(50.1,41.1),(50.2,40.3),(49.5,44.7),(52.0,38.6),(54.8,36.0),
    (55.3,23.8),(51.4,46.0),(48.9,39.2),(48.7,35.2),(48.6,33.9),(47.5,34.9),(47.3,37.0),(47.8,37.1),(47.1,33.9),(48.4,31.3),
    (48.7,30.4),(48.0,28.2),(46.7,40.0),(46.1,54.0),(45.3,58.4),(44.5,57.0),(43.5,56.2),(44.0,53.9),(42.8,54.6),(44.0,51.0),
    (42.8,48.0),(44.2,49.3),(44.8,49.2),(45.3,49.3),(46.0,54.1),(46.6,52.2),(47.4,49.3),(45.6,45.4),(44.5,43.6),(44.0,45.2),
    (45.0,41.0),(45.9,40.1),(47.3,40.1),(45.3,37.0),(44.3,34.2),(45.3,34.3),(44.6,33.3),(44.8,32.4),(44.3,31.6),(46.3,37.0),
    (42.8,26.8),(40.3,59.2),(40.0,56.0),(40.6,54.8),(38.3,60.4),(40.9,52.1),(42.0,52.1),(41.5,51.5),(42.3,51.5),(39.9,45.1),
    (40.7,44.3),(42.4,44.7),(42.3,43.0),(43.6,43.2),(43.5,41.4),(44.8,43.3),(40.3,41.9),(41.1,39.5),(40.8,38.4),(42.0,37.0),
    (40.7,36.6),(39.4,36.6),(42.3,35.6),(40.6,29.3),(41.3,29.7),(41.9,27.9),(42.7,26.6),(38.2,48.2),(38.6,46.9),(37.8,46.0),
    (37.3,43.8),(37.5,43.0),(36.8,43.6),(38.6,42.2),(39.4,42.0),(39.2,40.5),(37.9,39.5),(39.4,38.4),(38.9,37.0),(38.1,36.2),
    (38.9,35.1),(37.5,34.5),(36.4,33.4),(36.1,30.1),(36.4,29.6),(37.4,28.8),(37.8,28.5),(39.2,29.6),(38.9,26.8),(36.6,24.2),
    (37.5,20.3),(33.6,20.6),(30.8,15.1),(31.9,16.4),(32.2,15.7),(29.7,25.7),(28.7,20.6),(28.8,21.3),(29.0,17.5),(26.9,19.4),
    (25.7,12.3),(24.8,13.9),(22.9,1.5),(21.5,15.7),(23.4,19.0),(23.5,20.2),(23.4,17.5),(20.7,19.5),(19.9,19.1),(18.7,17.2),
    (18.9,19.7),(19.3,20.0),(20.4,21.0),(21.5,20.8),(18.7,24.6),(20.3,23.8),(20.7,24.9),(23.2,23.1),(23.4,25.7),(24.1,26.0),
    (24.6,26.8),(25.7,26.5),(25.2,28.5),(26.6,29.3),(26.3,30.1),(27.2,30.7),(28.0,31.0),(28.8,28.7),(27.4,28.5),(27.6,32.3),
    (28.4,33.1),(29.4,34.5),(29.7,35.3),(28.3,35.6),(27.2,34.0),(26.6,33.4),(25.7,33.5),(25.2,32.6),(24.3,32.9),(23.8,30.7),
    (22.7,30.1),(22.5,30.7),(23.0,29.3),(22.1,32.6),(21.8,35.1),(21.3,34.5),(21.5,35.9),(23.5,35.6),(24.1,37.0),(24.6,36.4),
    (25.2,37.3),(26.6,37.0),(27.4,37.0),(28.3,37.8),(23.5,38.6),(24.1,39.5),(23.2,40.0),(22.5,38.4),(21.8,40.3),(21.7,39.2),
    (20.7,38.9),(19.9,38.1),(19.5,37.5),(18.5,37.3),(17.9,37.5),(17.4,38.9),(18.6,35.1),(20.1,36.2),(20.7,34.0),(20.9,32.6),
    (20.1,32.4),(19.6,30.7),(20.1,30.1),(20.7,29.6),(19.0,28.7),(18.2,29.6),(17.6,30.7),(18.5,32.0),(20.6,43.6),(19.1,43.6),
    (20.3,47.7),(22.8,45.9),(22.8,45.2),(23.4,42.5),(21.3,42.5),(21.8,40.1),(25.2,41.4),(26.7,48.5),(27.5,46.6),(27.7,45.1),
    (29.0,44.2),(28.1,43.6),(29.3,52.1),(32.3,50.6),(33.1,52.3),(33.1,50.6),(34.4,51.2),(34.2,48.0),(34.4,46.2),(32.8,46.0),
    (31.9,43.7),(31.5,43.2),(31.9,42.7),(31.0,41.4),(30.5,40.0),(29.9,39.5),(31.3,39.5),(31.0,38.4),(30.2,37.3),(29.7,37.5),
    (31.6,36.7),(32.2,36.2),(32.7,35.6),(33.1,34.5),(32.2,34.2),(31.3,33.4),(30.9,32.3),(31.9,32.0),(33.1,33.4),(33.9,34.0),
    (34.7,34.5),(35.2,35.1),(34.1,36.2),(33.6,38.4),(34.4,39.5),(35.0,40.5),(34.1,41.4),(35.2,41.9),(36.1,41.6),(35.8,40.0),
    (36.6,38.9),(36.6,40.0),(36.4,43.6),(36.6,43.7),(35.8,43.8),(37.2,44.9),(38.6,44.1),(35.2,30.9),(34.1,30.9),(34.7,30.1),
    (33.1,28.2),(32.8,29.6),(33.3,31.8),(32.7,25.2),(31.3,27.4),(31.0,29.6),(30.5,29.0),(29.8,28.5),(28.3,26.0),(28.4,22.4),
    (28.1,20.8),(28.1,23.8),(27.4,24.6),(26.6,23.8),(25.7,26.0),(30.5,25.2),(33.5,29.6),(36.8,29.0),(38.3,29.0),(30.3,30.1),
    (23.5,18.6),(24.3,16.9),(22.9,19.5),(22.7,20.3),(21.8,21.4),(19.9,16.9),(20.7,17.2),(23.2,17.4),(15.7,23.0),(15.4,21.6),
    (15.7,19.1),(15.1,19.4),(15.1,18.3),(15.7,16.6),(16.5,18.0),(17.1,19.1),(17.2,21.3),(16.8,20.8),(15.1,21.0),(14.8,20.2),
    (14.3,19.9),(13.7,20.8),(13.1,22.1),(12.4,22.4),(12.3,23.5),(12.0,23.2),(11.7,22.1),(11.3,21.9),(12.3,19.1),(12.3,19.7),
    (11.2,19.7),(10.9,18.0),(11.2,14.7),(12.9,14.7),(13.1,13.9),(15.1,13.9),(15.7,16.4),(16.8,15.8),(12.3,24.9),(12.9,26.5),
    (12.9,30.7),(14.0,30.9),(14.3,31.2),(15.9,30.1),(16.3,28.7),(15.0,27.9),(15.7,26.8),(15.9,24.9),(15.9,23.8),(14.0,24.3),
    (13.7,27.6),(12.3,27.1),(12.0,26.5),(11.5,25.2),(10.9,28.2),(9.9,27.6),(10.1,26.3),(9.9,28.2),(10.8,22.7),(8.5,23.6),
    (8.3,21.8),(8.2,31.1),(7.0,28.6),(12.9,34.0),(15.4,42.3),(16.0,44.7),(17.1,31.2),(17.3,31.5),(18.7,29.9),(18.6,27.1),
    (15.7,22.6),(17.3,15.5),(16.8,16.9),(18.6,17.5),(15.4,13.6),(11.7,14.5),(10.2,9.2),(7.3,5.4),(0.0,5.1),(0.0,1.0),
    (0.3,1.1),(24.9,13.7),(25.6,12.4),(28.5,21.9),(27.1,26.0),(52.3,38.6),(27.4,59.8),
]

# panel d, validation: observed values stuck at 76.6
d_col = [71.3, 70.2, 66.9, 65.8, 62.3, 61.4, 60.3, 57.0, 55.9, 54.8, 53.7, 52.6, 51.8, 50.7,
         48.5, 47.8, 46.9, 46.0, 45.2, 44.1, 42.3, 40.3]

r_values = ['r = 0.77', 'r = 0.75', 'r = 0.72', 'r = 0.69']
titles = ['Entrenamiento', 'Validación', 'Entrenamiento', 'Validación']
letters = ['a', 'b', 'c', 'd']

# ---------------- figure ----------------
W, H = 1165, 1173
fig = plt.figure(figsize=(W / 100, H / 100), dpi=100)


def px_axes(l, t, r, b):
    return fig.add_axes([l / W, 1 - b / H, (r - l) / W, (b - t) / H])


def pts(*groups):
    arr = np.array([p for g in groups for p in g])
    return arr[:, 0], arr[:, 1]


col_c = [(76.6, v) for v in c_col]
col_d = [(76.6, v) for v in d_col]
rows_c = [(xv, yv) for yv, xs in c_rows for xv in xs]

panels = [
    dict(xy=pts(a_low, a_mid, a_high), box=(63, 46, 583, 530), xlim=(-1.95, 124.6), ylim=(-2.7, 111.2),
         xt=[0, 25, 50, 75, 100], yt=[0, 25, 50, 75, 100], rpos=(20, 90), xl=45),
    dict(xy=pts(b_low, b_rest), box=(657, 46, 1178, 532), xlim=(3.4, 117.2), ylim=(-3.6, 105.1),
         xt=[30, 60, 90], yt=[0, 25, 50, 75, 100], rpos=(20, 90), xl=44),
    dict(xy=pts(c_core, rows_c, c_spread, col_c), box=(63, 633, 582, 1122), xlim=(-1.9, 84.7), ylim=(-8.1, 85.9),
         xt=[0, 20, 40, 60, 80], yt=[0, 20, 40, 60, 80], rpos=(10, 70), xl=38),
    dict(xy=pts(d_pts, col_d), box=(651, 633, 1169, 1122), xlim=(-3.7, 83.2), ylim=(-3.0, 77.4),
         xt=[0, 20, 40, 60, 80], yt=[0, 20, 40, 60], rpos=(10, 70), xl=38),
]

xlab = r'NO$_\mathrm{2}$ (µg/m$^\mathrm{3}$) observado'
ylab = r'NO$_\mathrm{2}$ (µg/m$^\mathrm{3}$) pronosticado'

for i, p in enumerate(panels):
    l, t, r, b = p['box']
    ax = px_axes(l, t, r, b)
    ax.set_facecolor('#EBEBEB')
    for s in ax.spines.values():
        s.set_visible(False)

    x, y = p['xy']
    ax.scatter(x, y, s=20, c='black', linewidths=0, zorder=3)
    ax.axline((0, 0), slope=1, color='#1414CC', lw=2.4, linestyle=(0, (5.5, 2.7)), zorder=4)

    xt, yt = p['xt'], p['yt']
    ax.set_xticks(xt)
    ax.set_yticks(yt)
    dx = xt[1] - xt[0]
    dy = yt[1] - yt[0]
    ax.set_xticks(np.arange(xt[0] - dx / 2, p['xlim'][1], dx), minor=True)
    ax.set_yticks(np.arange(yt[0] - dy / 2, p['ylim'][1], dy), minor=True)
    ax.set_xlim(*p['xlim'])
    ax.set_ylim(*p['ylim'])
    ax.grid(True, which='major', color='white', lw=1.1, zorder=0)
    ax.grid(True, which='minor', color='white', lw=0.55, zorder=0)
    ax.set_axisbelow(True)
    ax.tick_params(which='major', length=2.5, width=0.8, color='#333333', labelsize=7,
                   labelcolor='#4D4D4D', pad=2)
    ax.tick_params(which='minor', length=0)

    ax.text(p['rpos'][0], p['rpos'][1], r_values[i], fontsize=19, ha='center', va='center', zorder=5)

    ax.set_xlabel(xlab, fontsize=15.3)
    ax.xaxis.set_label_coords(0.5, -p['xl'] / (b - t))
    ax.xaxis.label.set_va('center')
    ax.set_ylabel(ylab, fontsize=15.3)
    ax.yaxis.set_label_coords(-(l - (24 if l < 600 else 609)) / (r - l), 0.5)
    ax.yaxis.label.set_va('center')

    fig.text(((l + r) / 2) / W, 1 - (t - 24) / H, titles[i], fontsize=20, fontweight='bold',
             ha='center', va='center')
    fig.text((16 if l < 600 else 606) / W, 1 - (t - 24) / H, letters[i], fontsize=18,
             fontweight='bold', ha='center', va='center')

fig.savefig('out.png', dpi=100)
